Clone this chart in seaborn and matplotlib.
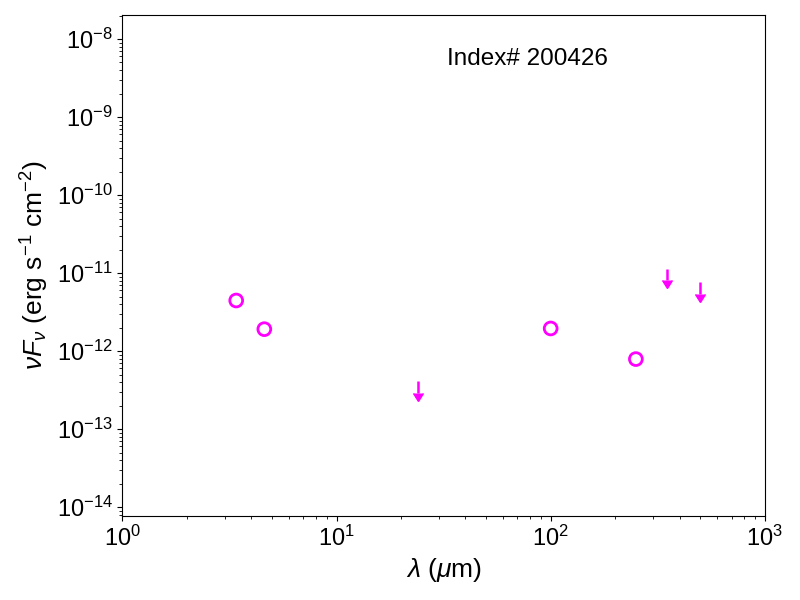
import numpy as np  # For numerical operations
import pandas as pd  # For handling the photometry table
import matplotlib
matplotlib.use("Agg")
import matplotlib.pyplot as plt  # For the figure
import seaborn as sns  # For the detections

# ------------------- Step 1: Photometry ------------------- #

# Detections (wavelength in micron, nuFnu in erg s^-1 cm^-2)
det_wave = [3.4, 4.6, 100.0, 250.0]
det_flux = [4.45e-12, 1.91e-12, 1.95e-12, 7.9e-13]

# Upper limits
lim_wave = [24.0, 350.0, 500.0]
lim_flux = [4.1e-13, 1.14e-11, 7.7e-12]

source_label = "Index# 200426"

det = pd.DataFrame({"wave": det_wave, "flux": det_flux})

# ------------------- Step 2: Style ------------------- #

sns.set_style("ticks")
plt.rcParams["font.family"] = ["Liberation Sans", "DejaVu Sans"]
plt.rcParams["mathtext.fontset"] = "custom"
plt.rcParams["mathtext.rm"] = "Liberation Sans"
plt.rcParams["mathtext.it"] = "Liberation Sans:italic"
plt.rcParams["mathtext.bf"] = "Liberation Sans:bold"
plt.rcParams["axes.edgecolor"] = "black"
plt.rcParams["axes.labelcolor"] = "black"
plt.rcParams["text.color"] = "black"
plt.rcParams["xtick.color"] = "black"
plt.rcParams["ytick.color"] = "black"

# ------------------- Step 3: Plot ------------------- #

fig, ax = plt.subplots(figsize=(8, 6), dpi=100)
fig.subplots_adjust(left=0.153, right=0.956, bottom=0.14, top=0.975)

ax.set_xscale("log")
ax.set_yscale("log")

sns.scatterplot(data=det, x="wave", y="flux", ax=ax, s=85, marker="o",
                facecolor="none", edgecolor="magenta", linewidth=2, zorder=3)

# upper limits drawn as downward arrows
lim_flux = np.array(lim_flux)
_, caps, _ = ax.errorbar(lim_wave, lim_flux, yerr=0.29 * lim_flux, uplims=True,
                         fmt="none", ecolor="magenta", color="magenta",
                         elinewidth=1.8, capsize=0)
for c in caps:
    c.set_markersize(7.2)

ax.set_xlim(1, 1000)
ax.set_ylim(7.7e-15, 2.03e-8)

ax.set_xlabel(r"$\lambda$ ($\mu$m)", fontsize=19)
ax.set_ylabel(r"$\nu F_\nu$ (erg s$^{-1}$ cm$^{-2}$)", fontsize=19)
ax.tick_params(axis="both", which="major", labelsize=17)

ax.text(0.505, 0.9, source_label, transform=ax.transAxes, fontsize=17.5, ha="left")

plt.savefig("out.png", dpi=100)
